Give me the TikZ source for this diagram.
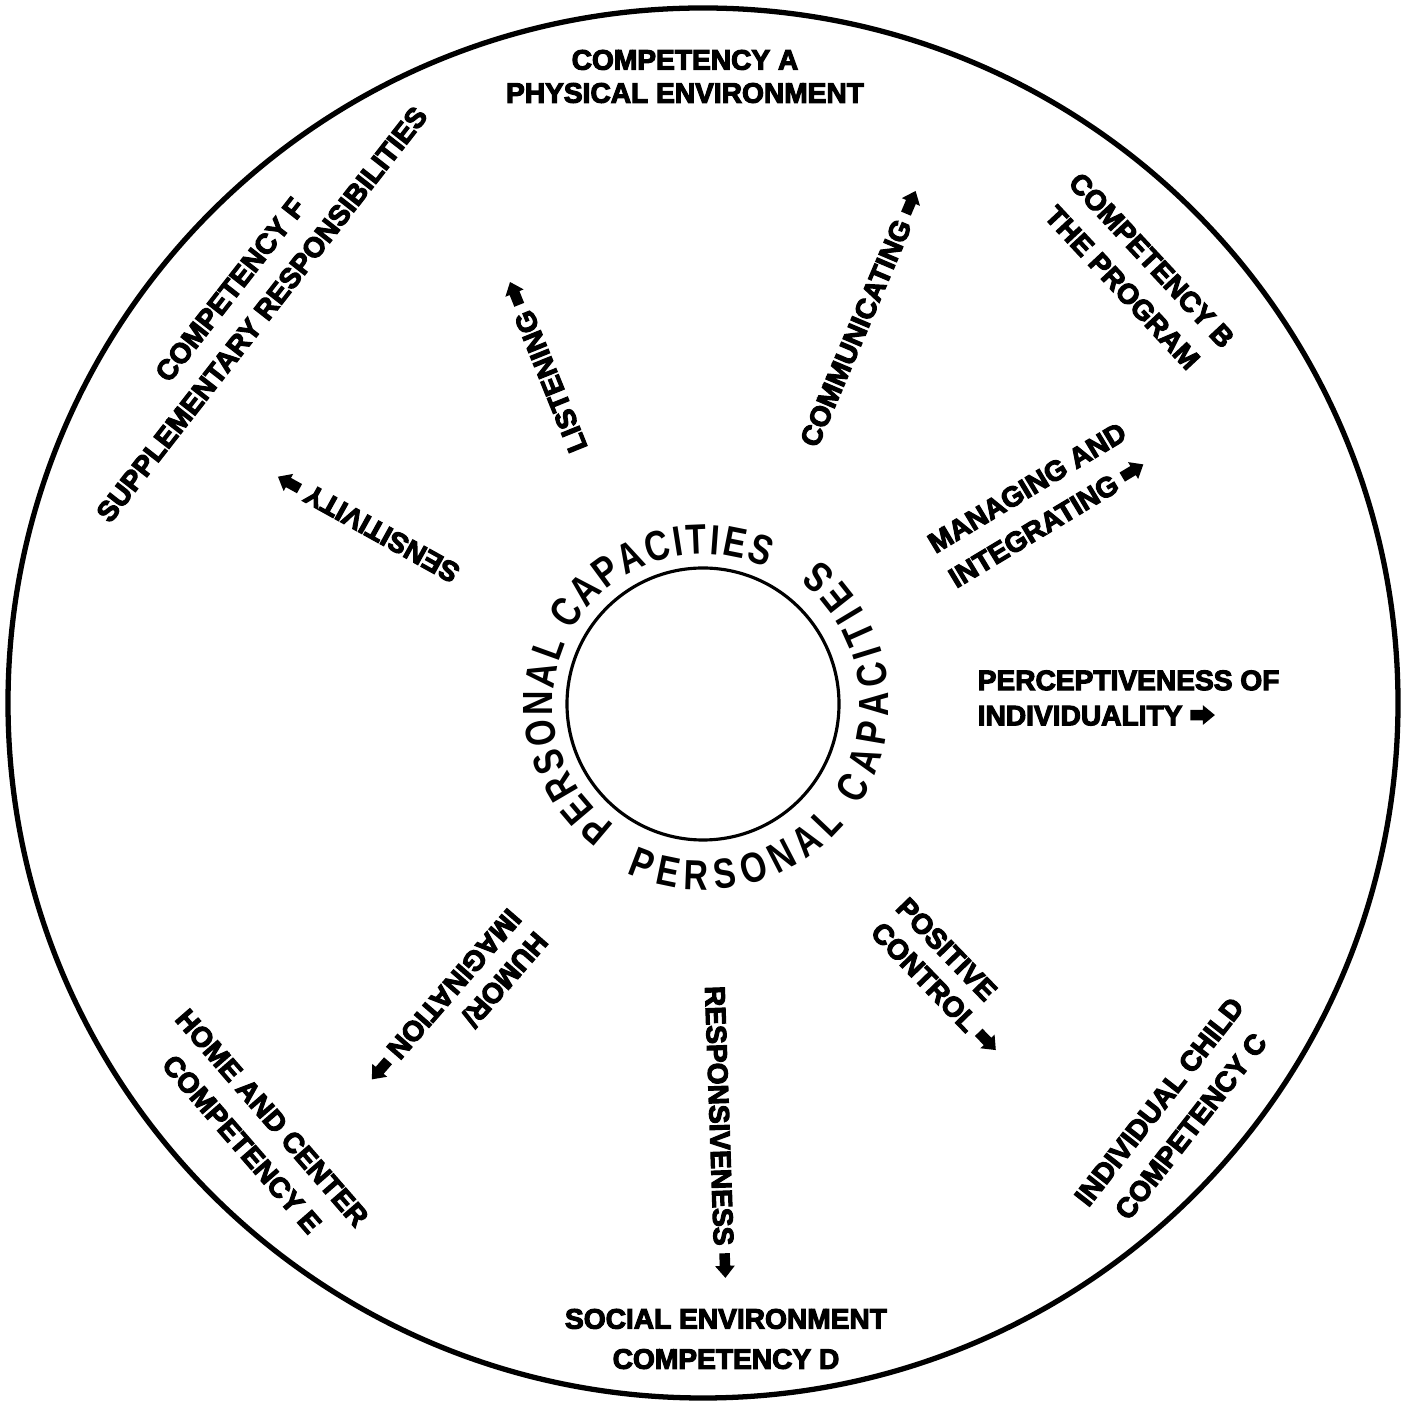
\documentclass[tikz,border=0pt]{standalone}
\usepackage{fontspec}
\setmainfont{Liberation Sans}
\newfontfamily\labfont{Liberation Sans}[BoldFeatures={FakeBold=4}]
\newfontfamily\capfont{Liberation Sans}[FakeStretch=0.8]
\usetikzlibrary{decorations.text}
\newcommand\arr{\tikz[baseline={(0pt,-2.9pt)}]\fill (0pt,1.5pt) -- (3.6pt,1.5pt) -- (3.6pt,2.8pt) -- (7pt,0pt) -- (3.6pt,-2.8pt) -- (3.6pt,-1.5pt) -- (0pt,-1.5pt) -- cycle;}
\begin{document}
\begin{tikzpicture}[x=0.01cm,y=0.01cm,
  lab/.style={font=\labfont\bfseries\fontsize{8}{11.4}\selectfont, align=center, inner sep=0pt},
  capac/.style={font=\labfont\bfseries\fontsize{8}{10}\selectfont, align=left, inner sep=0pt},
  ring/.style={decorate, decoration={text along path, text align={fit to path},
     text={|\capfont\bfseries\fontsize{12}{14}\selectfont|#1}}}
]
\useasboundingbox (0,0) rectangle (1403,1406);
\draw[line width=1.5pt] (703,703) circle[radius=695];
\coordinate (cen) at (703,702);
\draw[line width=0.9pt] (cen) circle[radius=136];

% curved texts
\path[ring={PERSONAL CAPACITIES}] ([shift={(234:150)}]cen) arc[start angle=234, end angle=65, radius=150];
\path[ring={PERSONAL CAPACITIES}] ([shift={(245.6:186)}]cen) arc[start angle=245.6, end angle=411, radius=186];

% competencies
\node[lab, font=\labfont\bfseries\fontsize{8}{9.4}\selectfont] (cA) at (685,1329.5) {COMPETENCY A\\PHYSICAL ENVIRONMENT};
\node[lab, rotate=-47] (cB) at (1137,1132) {COMPETENCY B\\THE PROGRAM};
\node[lab, rotate=52] (cC) at (1175,292) {INDIVIDUAL CHILD\\COMPETENCY C};
\node[lab] (cD) at (726,67) {SOCIAL ENVIRONMENT\\COMPETENCY D};
\node[lab, rotate=-49] (cE) at (257,275) {HOME AND CENTER\\COMPETENCY E};
\node[lab, rotate=52] (cF) at (246,1104) {COMPETENCY F\\SUPPLEMENTARY RESPONSIBILITIES};

% personal capacities
\node[capac, rotate=112] (pL) at (544.5,1039.5) {LISTENING \arr};
\node[capac, rotate=151] (pS) at (367.5,880) {SENSITIVITY \arr};
\node[capac, rotate=67] (pC) at (862,1088) {COMMUNICATING \arr};
\node[capac, rotate=31, font=\labfont\bfseries\fontsize{8}{11.5}\selectfont] (pM) at (1037.5,901) {MANAGING AND\\INTEGRATING \arr};
\node[capac, anchor=west] (pP) at (977,708) {PERCEPTIVENESS OF\\INDIVIDUALITY \arr};
\node[capac, rotate=-46] (pPC) at (948.5,429.5) {POSITIVE\\CONTROL \arr};
\node[capac, rotate=-88] (pR) at (720,274) {RESPONSIVENESS \arr};
\node[capac, rotate=229] (pH) at (457,398) {HUMOR/\\IMAGINATION \arr};
\end{tikzpicture}
\end{document}
